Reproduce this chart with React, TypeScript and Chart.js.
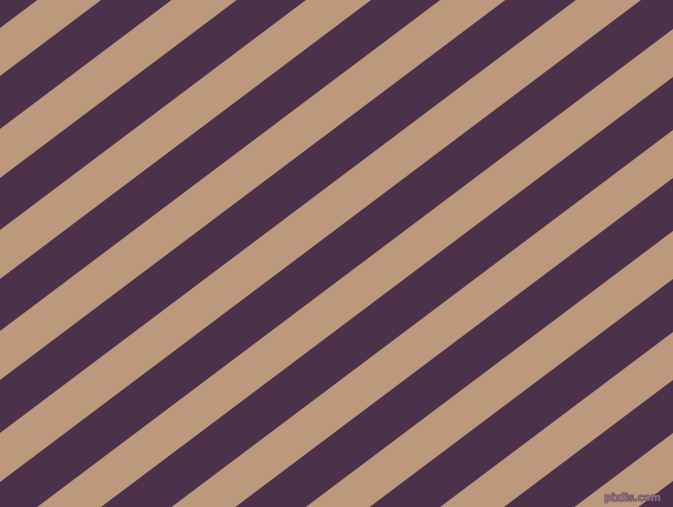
import { Chart, registerables } from 'chart.js';
import { useEffect, useRef } from 'react';

Chart.register(...registerables);

const W = 673;
const H = 507;

// where the upper edge of each tan band meets x = 0 (px from the top)
const tanTops = [-73, 28, 129, 230, 331, 433, 535, 636, 737, 838, 939, 1040];
// where the lower edge of each tan band meets x = 0
const tanBottoms = [-25, 76, 178, 279, 380, 482, 583, 684, 785, 886, 987, 1088];
// drop in y per px of x along a band
const slope = 0.752;
const xEnds = [-20, W + 20];

const PURPLE = '#4b314a';
const TAN = '#bc997d';

const edge = (c: number) => xEnds.map((x) => ({ x, y: c - slope * x }));

const backdrop = {
  id: 'backdrop',
  beforeDraw(chart: Chart) {
    const { ctx, width, height } = chart;
    ctx.save();
    ctx.fillStyle = PURPLE;
    ctx.fillRect(0, 0, width, height);
    ctx.restore();
  },
  afterDraw(chart: Chart) {
    const ctx = chart.ctx;
    ctx.save();
    ctx.font = 'bold 10px "DejaVu Sans", sans-serif';
    ctx.textBaseline = 'alphabetic';
    ctx.textAlign = 'right';
    ctx.lineWidth = 1;
    ctx.strokeStyle = '#5e4459';
    ctx.strokeText('pixlis.com', 661, 501);
    ctx.fillStyle = '#8c6e7c';
    ctx.fillText('pixlis.com', 661, 501);
    ctx.restore();
  },
};

const App: React.FC = () => {
  const ref = useRef<HTMLCanvasElement>(null);
  const chartInstance = useRef<Chart | null>(null);

  useEffect(() => {
    document.body.style.margin = '0';
    if (ref.current) {
      const ctx = ref.current.getContext('2d');
      if (ctx) {
        if (chartInstance.current) {
          chartInstance.current.destroy();
        }
        const datasets: any[] = [];
        tanTops.forEach((top, i) => {
          datasets.push({
            data: edge(top),
            borderWidth: 0,
            pointRadius: 0,
            backgroundColor: TAN,
            fill: '+1',
          });
          datasets.push({
            data: edge(tanBottoms[i]),
            borderWidth: 0,
            pointRadius: 0,
            fill: false,
          });
        });
        chartInstance.current = new Chart(ctx, {
          type: 'line',
          data: { datasets },
          options: {
            responsive: false,
            animation: false,
            events: [],
            layout: { padding: 0 },
            scales: {
              x: { type: 'linear', min: 0, max: W, display: false },
              y: { type: 'linear', min: 0, max: H, reverse: true, display: false },
            },
            plugins: {
              legend: { display: false },
              tooltip: { enabled: false },
            },
          },
          plugins: [backdrop],
        });
      }
    }
    return () => {
      if (chartInstance.current) {
        chartInstance.current.destroy();
        chartInstance.current = null;
      }
    };
  }, []);

  return (
    <div style={{ width: W, height: H }}>
      <canvas ref={ref} width={W} height={H} style={{ display: 'block' }}></canvas>
    </div>
  );
};

export default App;
